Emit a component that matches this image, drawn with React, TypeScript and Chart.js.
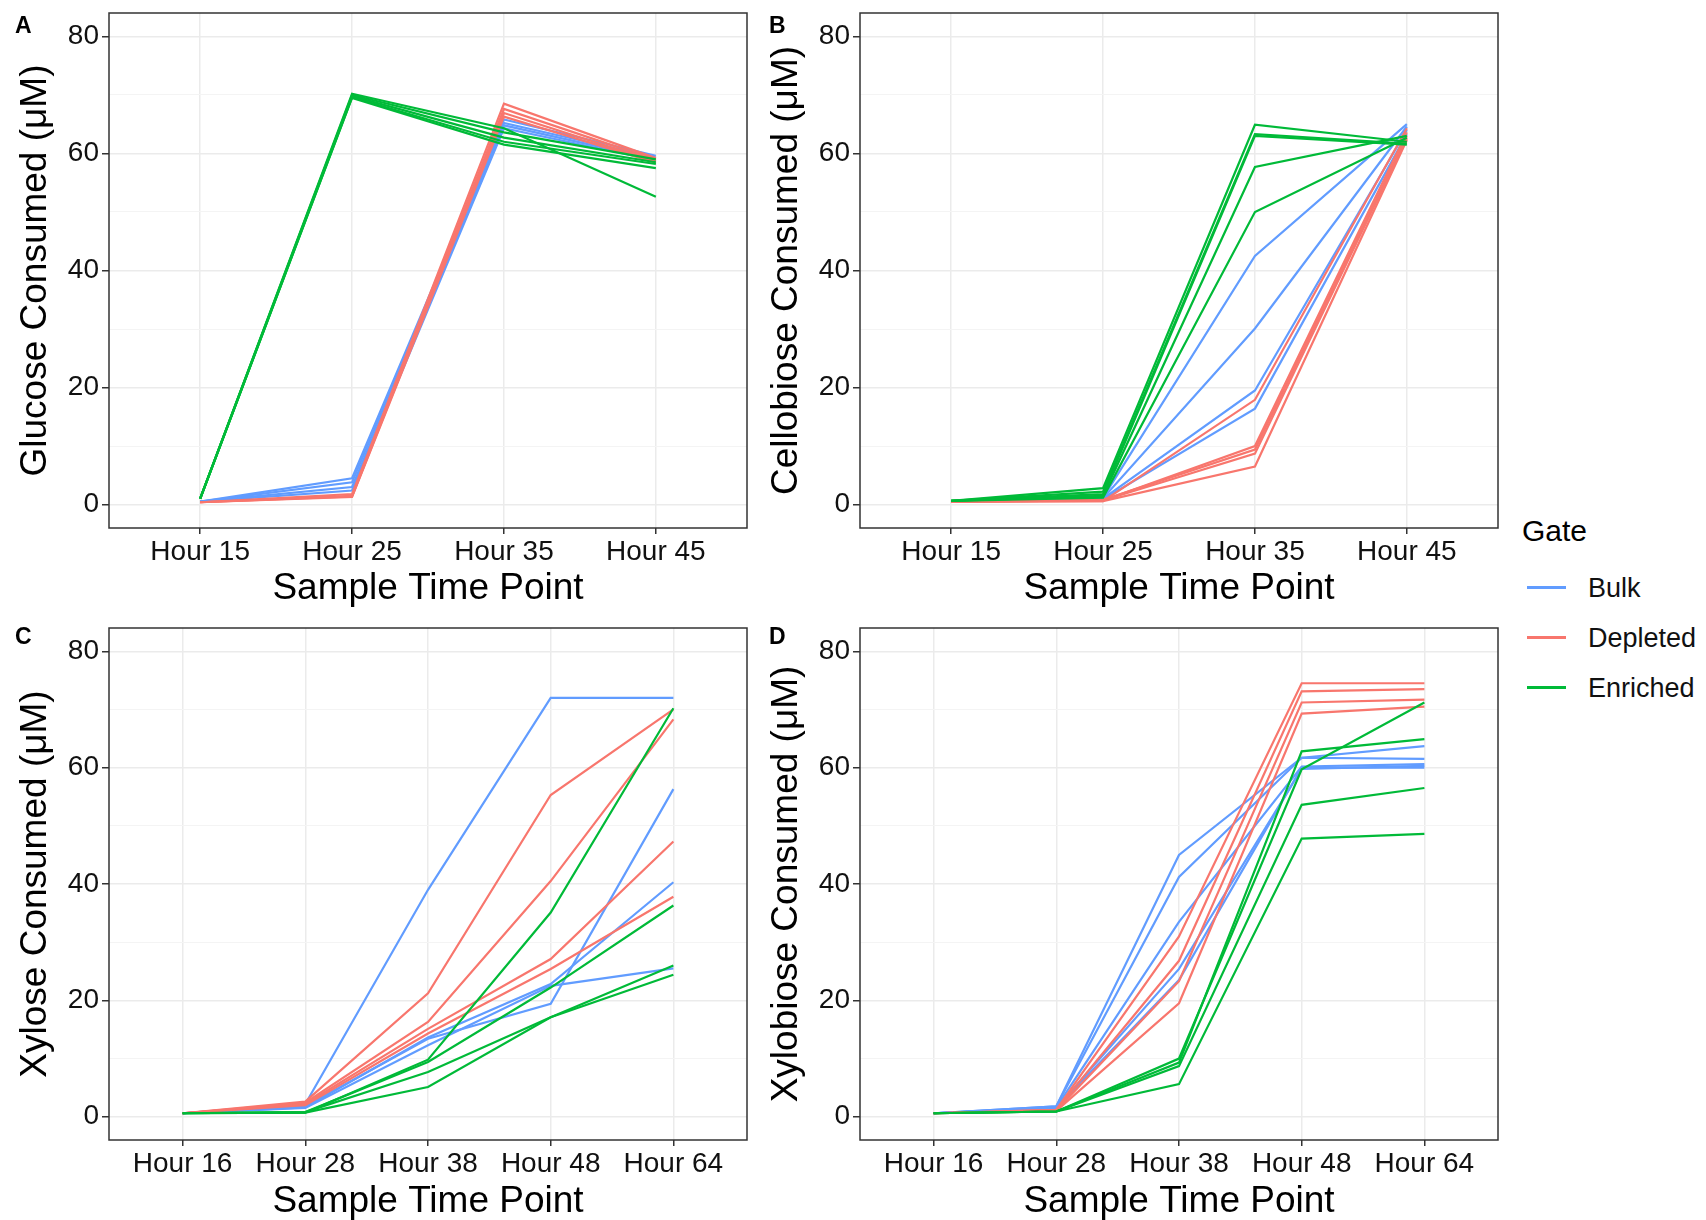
import React, { useEffect, useRef } from 'react';
import { Chart, registerables } from 'chart.js';

Chart.register(...registerables);

const FONT = '"Liberation Sans", Arial, Helvetica, sans-serif';

const gateNames = ['Bulk', 'Depleted', 'Enriched'];
const gateColors = ['#619CFF', '#F8766D', '#00BA38'];

const hoursAB = ['Hour 15', 'Hour 25', 'Hour 35', 'Hour 45'];
const hoursCD = ['Hour 16', 'Hour 28', 'Hour 38', 'Hour 48', 'Hour 64'];
const yTickValues = [0, 10, 20, 30, 40, 50, 60, 70, 80];
const yMin = -4;
const yMax = 84;

// Panel A – Glucose
const glucoseBulk = [
  [0.5, 4.5, 65.8, 59.6],
  [0.5, 3.8, 65.2, 59.3],
  [0.5, 3.0, 64.8, 59.0],
  [0.5, 2.4, 64.3, 58.8],
];
const glucoseDepleted = [
  [0.4, 1.8, 68.5, 59.2],
  [0.4, 1.5, 67.6, 58.9],
  [0.4, 1.4, 66.9, 58.6],
  [0.4, 1.3, 66.3, 58.4],
];
const glucoseEnriched = [
  [1.0, 70.2, 64.3, 52.6],
  [1.0, 70.0, 63.6, 59.0],
  [1.0, 69.8, 62.7, 58.5],
  [1.0, 69.6, 62.0, 58.2],
  [1.0, 69.5, 61.5, 57.5],
];

// Panel B – Cellobiose
const cellobioseBulk = [
  [0.5, 1.2, 42.5, 65.0],
  [0.5, 1.1, 30.1, 64.6],
  [0.5, 1.0, 19.5, 64.0],
  [0.5, 0.9, 16.4, 63.3],
];
const cellobioseDepleted = [
  [0.5, 0.6, 17.9, 64.3],
  [0.5, 0.7, 10.0, 63.6],
  [0.5, 0.8, 9.4, 63.0],
  [0.5, 0.7, 8.7, 62.6],
  [0.5, 0.6, 6.5, 62.3],
];
const cellobioseEnriched = [
  [0.65, 2.8, 64.9, 62.0],
  [0.65, 2.2, 63.3, 61.7],
  [0.65, 1.8, 63.0, 61.5],
  [0.65, 1.5, 57.7, 63.0],
  [0.65, 1.2, 50.0, 62.7],
];

// Panel C – Xylose
const xyloseBulk = [
  [0.6, 2.2, 39.0, 72.0, 72.0],
  [0.6, 1.8, 13.4, 19.4, 56.3],
  [0.6, 1.6, 13.6, 22.8, 40.3],
  [0.6, 1.5, 12.3, 22.5, 25.5],
];
const xyloseDepleted = [
  [0.6, 2.6, 21.2, 55.3, 70.0],
  [0.6, 2.4, 16.3, 40.5, 68.3],
  [0.6, 2.2, 15.1, 27.1, 47.3],
  [0.6, 2.0, 14.3, 25.4, 37.8],
];
const xyloseEnriched = [
  [0.6, 0.7, 9.8, 35.1, 70.2],
  [0.6, 0.8, 9.4, 22.2, 36.3],
  [0.6, 0.8, 7.7, 17.1, 26.0],
  [0.6, 0.7, 5.1, 17.1, 24.4],
];

// Panel D – Xylobiose
const xylobioseBulk = [
  [0.6, 1.8, 45.0, 61.7, 63.7],
  [0.6, 1.8, 41.2, 61.7, 61.5],
  [0.6, 1.6, 33.5, 60.2, 60.6],
  [0.6, 1.5, 25.4, 59.8, 60.3],
  [0.6, 1.5, 23.5, 60.0, 60.0],
];
const xylobioseDepleted = [
  [0.6, 1.2, 31.0, 74.5, 74.5],
  [0.6, 1.2, 26.8, 73.1, 73.5],
  [0.6, 1.1, 23.3, 71.2, 71.7],
  [0.6, 1.0, 19.5, 69.3, 70.5],
];
const xylobioseEnriched = [
  [0.6, 0.9, 10.0, 59.7, 71.2],
  [0.6, 0.9, 9.3, 62.8, 64.9],
  [0.6, 0.9, 8.7, 53.6, 56.5],
  [0.6, 0.9, 5.6, 47.8, 48.6],
];

const panelBorder = {
  id: 'panelBorder',
  afterDatasetsDraw(chart: any) {
    const { ctx, chartArea } = chart;
    ctx.save();
    ctx.strokeStyle = '#333333';
    ctx.lineWidth = 1.5;
    ctx.strokeRect(chartArea.left, chartArea.top, chartArea.right - chartArea.left, chartArea.bottom - chartArea.top);
    ctx.restore();
  },
};

type PanelProps = {
  left: number;
  top: number;
  height: number;
  xAxisHeight: number;
  xTitlePad: number;
  labels: string[];
  groups: number[][][];
  yTitle: string;
};

function Panel({ left, top, height, xAxisHeight, xTitlePad, labels, groups, yTitle }: PanelProps) {
  const ref = useRef<HTMLCanvasElement>(null);
  useEffect(() => {
    const datasets: any[] = [];
    groups.forEach((lines, g) => {
      lines.forEach((vals) => {
        datasets.push({
          label: gateNames[g],
          data: vals.map((v, i) => ({ x: i, y: v })),
          borderColor: gateColors[g],
          backgroundColor: gateColors[g],
          borderWidth: 2.2,
          pointRadius: 0,
          pointHoverRadius: 0,
          tension: 0,
          fill: false,
          order: g === 2 ? 0 : g === 1 ? 1 : 2,
        });
      });
    });
    const chart = new Chart(ref.current as HTMLCanvasElement, {
      type: 'line',
      data: { datasets },
      plugins: [panelBorder],
      options: {
        animation: false,
        responsive: false,
        maintainAspectRatio: false,
        events: [],
        layout: { padding: { left: 0, top: 13, right: 13, bottom: 0 } },
        plugins: { legend: { display: false }, tooltip: { enabled: false } },
        scales: {
          x: {
            type: 'linear',
            min: -0.6,
            max: labels.length - 1 + 0.6,
            afterBuildTicks: (s: any) => {
              s.ticks = labels.map((_, i) => ({ value: i }));
            },
            afterFit: (s: any) => {
              s.height = xAxisHeight;
              s.paddingLeft = 0;
              s.paddingRight = 0;
            },
            ticks: {
              autoSkip: false,
              maxRotation: 0,
              minRotation: 0,
              padding: 1,
              color: '#111111',
              font: { family: FONT, size: 28 },
              callback: (v: any) => labels[Math.round(Number(v))] ?? '',
            },
            grid: {
              color: '#EBEBEB',
              lineWidth: 1.5,
              tickColor: '#333333',
              tickLength: 6,
              tickWidth: 1.5,
            },
            border: { display: false },
            title: {
              display: true,
              text: 'Sample Time Point',
              color: '#000000',
              font: { family: FONT, size: 37, lineHeight: 1.0 },
              padding: { top: 0, bottom: xTitlePad },
            },
          },
          y: {
            type: 'linear',
            min: yMin,
            max: yMax,
            afterBuildTicks: (s: any) => {
              s.ticks = yTickValues.map((v) => ({ value: v }));
            },
            afterFit: (s: any) => {
              s.width = 109;
              s.paddingTop = 0;
              s.paddingBottom = 0;
            },
            ticks: {
              padding: 3,
              color: '#111111',
              font: { family: FONT, size: 28 },
              callback: (v: any) => (Number(v) % 20 === 0 ? String(v) : ''),
            },
            grid: {
              color: (c: any) => (c.tick && c.tick.value % 20 === 0 ? '#EBEBEB' : '#F4F4F4'),
              lineWidth: (c: any) => (c.tick && c.tick.value % 20 === 0 ? 1.5 : 1),
              tickColor: (c: any) => (c.tick && c.tick.value % 20 === 0 ? '#333333' : 'rgba(0,0,0,0)'),
              tickLength: 7,
              tickWidth: 1.5,
            },
            border: { display: false },
            title: {
              display: true,
              text: yTitle,
              color: '#000000',
              font: { family: FONT, size: 37 },
              padding: { top: 14, bottom: 0 },
            },
          },
        },
      } as any,
    });
    return () => chart.destroy();
  }, []);
  return (
    <canvas
      ref={ref}
      width={760}
      height={height}
      style={{ position: 'absolute', left, top, width: 760, height }}
    />
  );
}

const letterStyle = (left: number, top: number): React.CSSProperties => ({
  position: 'absolute',
  left,
  top,
  fontFamily: FONT,
  fontWeight: 'bold',
  fontSize: 23,
  lineHeight: '23px',
  color: '#000',
});

export default function App() {
  return (
    <div
      style={{
        position: 'fixed',
        left: 0,
        top: 0,
        width: 1706,
        height: 1220,
        background: '#ffffff',
        fontFamily: FONT,
        overflow: 'hidden',
      }}
    >
      <Panel left={0} top={0} height={610} xAxisHeight={82} xTitlePad={3} labels={hoursAB}
        groups={[glucoseBulk, glucoseDepleted, glucoseEnriched]} yTitle="Glucose Consumed (μM)" />
      <Panel left={751} top={0} height={610} xAxisHeight={82} xTitlePad={3} labels={hoursAB}
        groups={[cellobioseBulk, cellobioseDepleted, cellobioseEnriched]} yTitle="Cellobiose Consumed (μM)" />
      <Panel left={0} top={615} height={605} xAxisHeight={80} xTitlePad={0} labels={hoursCD}
        groups={[xyloseBulk, xyloseDepleted, xyloseEnriched]} yTitle="Xylose Consumed (μM)" />
      <Panel left={751} top={615} height={605} xAxisHeight={80} xTitlePad={0} labels={hoursCD}
        groups={[xylobioseBulk, xylobioseDepleted, xylobioseEnriched]} yTitle="Xylobiose Consumed (μM)" />

      <div style={letterStyle(15, 14)}>A</div>
      <div style={letterStyle(769, 14)}>B</div>
      <div style={letterStyle(15, 625)}>C</div>
      <div style={letterStyle(769, 625)}>D</div>

      <div style={{ position: 'absolute', left: 1522, top: 514, fontSize: 30, lineHeight: '34px', color: '#000' }}>Gate</div>
      {gateNames.map((name, i) => (
        <React.Fragment key={name}>
          <div
            style={{
              position: 'absolute',
              left: 1527,
              top: 587.5 + i * 50 - 1.5,
              width: 39,
              height: 3,
              background: gateColors[i],
            }}
          />
          <div
            style={{
              position: 'absolute',
              left: 1588,
              top: 587.5 + i * 50 - 15,
              fontSize: 27,
              lineHeight: '30px',
              color: '#111',
            }}
          >
            {name}
          </div>
        </React.Fragment>
      ))}
    </div>
  );
}
